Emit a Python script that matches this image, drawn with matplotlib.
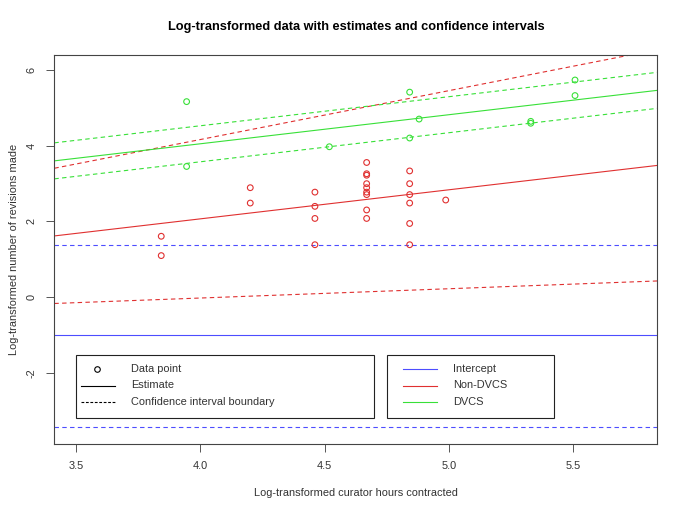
import matplotlib
matplotlib.use('Agg')
import matplotlib.pyplot as plt
from matplotlib.lines import Line2D
from matplotlib.patches import Rectangle

plt.rcParams['font.family'] = ['Liberation Sans', 'DejaVu Sans']
plt.rcParams['axes.unicode_minus'] = False

# log(curator hours) vs log(revisions)
non_dvcs_x = [3.843, 3.843,
              4.201, 4.201,
              4.461, 4.461, 4.461, 4.461,
              4.669, 4.669, 4.669, 4.669, 4.669, 4.669, 4.669, 4.669, 4.669,
              4.842, 4.842, 4.842, 4.842, 4.842, 4.842,
              4.987]
non_dvcs_y = [1.609, 1.099,
              2.890, 2.485,
              2.773, 2.398, 2.079, 1.386,
              3.555, 3.258, 3.219, 2.996, 2.890, 2.773, 2.708, 2.303, 2.079,
              3.332, 2.996, 2.708, 2.485, 1.946, 1.386,
              2.565]

dvcs_x = [3.945, 3.945, 4.519, 4.842, 4.842, 4.880, 5.329, 5.329, 5.507, 5.507]
dvcs_y = [5.16, 3.45, 3.97, 5.41, 4.20, 4.70, 4.64, 4.59, 5.73, 5.32]

# model estimates and confidence bounds
intercept = -1.0
intercept_ci = [-3.42, 1.39]
slope = 0.767
slope_ci = [0.245, 1.29]
dvcs_shift = 1.98
dvcs_shift_ci = [1.505, 2.455]

col_int = '#4d4dff'
col_non = '#e03030'
col_dvcs = '#38e038'
dash = (0, (4, 3))
txt = '#333333'

fig = plt.figure(figsize=(6.85, 5.13), dpi=100)
ax = fig.add_axes([0.0793, 0.1345, 0.8803, 0.7583])

# intercept
ax.axhline(intercept, color=col_int, lw=0.8)
for b in intercept_ci:
    ax.axhline(b, color=col_int, lw=0.8, ls=dash)

# non-DVCS
ax.axline((0, intercept), slope=slope, color=col_non, lw=0.8)
for s in slope_ci:
    ax.axline((0, intercept), slope=s, color=col_non, lw=0.8, ls=dash)

# DVCS
ax.axline((0, intercept + dvcs_shift), slope=slope, color=col_dvcs, lw=0.8)
for d in dvcs_shift_ci:
    ax.axline((0, intercept + d), slope=slope, color=col_dvcs, lw=0.8, ls=dash)

ax.scatter(non_dvcs_x, non_dvcs_y, s=17, facecolors='none', edgecolors=col_non, linewidths=0.8, zorder=3)
ax.scatter(dvcs_x, dvcs_y, s=17, facecolors='none', edgecolors=col_dvcs, linewidths=0.8, zorder=3)

ax.set_xlim(3.413, 5.838)
ax.set_ylim(-3.87, 6.39)
ax.set_xticks([3.5, 4.0, 4.5, 5.0, 5.5])
ax.set_xticklabels(['3.5', '4.0', '4.5', '5.0', '5.5'])
ax.set_yticks([-2, 0, 2, 4, 6])
ax.tick_params(length=5.5, width=0.7, color='#555555', labelsize=7.9, labelcolor=txt, pad=7)
for lab in ax.get_yticklabels():
    lab.set_rotation(90)
    lab.set_va('center')
for sp in ax.spines.values():
    sp.set_color('#444444')
    sp.set_linewidth(0.8)

ax.set_title('Log-transformed data with estimates and confidence intervals',
             fontsize=9.2, fontweight='bold', pad=18)
ax.set_xlabel('Log-transformed curator hours contracted', fontsize=7.9, color=txt)
ax.xaxis.set_label_coords(0.5, -0.113)
ax.set_ylabel('Log-transformed number of revisions made', fontsize=7.9, color=txt)
ax.yaxis.set_label_coords(-0.058, 0.5)

# legends drawn by hand in figure pixels, to match the R boxes
W, H = 685, 513


def fx(px):
    return px / W


def fy(py):
    return 1 - py / H


def box(x0, x1, y0=354.7, y1=418):
    fig.add_artist(Rectangle((fx(x0), fy(y1)), fx(x1) - fx(x0), fy(y0) - fy(y1),
                             transform=fig.transFigure, fill=False, ec='#222222', lw=0.8))


rows = [369, 385.5, 402]

box(76, 374)
fig.add_artist(Line2D([fx(97)], [fy(rows[0])], marker='o', ms=4, mfc='none', mec='black',
                      mew=0.8, transform=fig.transFigure))
fig.add_artist(Line2D([fx(81), fx(115)], [fy(rows[1])] * 2, color='black', lw=0.8,
                      transform=fig.transFigure))
fig.add_artist(Line2D([fx(81), fx(115)], [fy(rows[2])] * 2, color='black', lw=0.8, ls=(0, (2.5, 1.5)),
                      transform=fig.transFigure))
for r, t in zip(rows, ['Data point', 'Estimate', 'Confidence interval boundary']):
    fig.text(fx(131), fy(r), t, fontsize=7.9, color=txt, va='center')

box(387, 554)
for r, c, t in zip(rows, [col_int, col_non, col_dvcs], ['Intercept', 'Non-DVCS', 'DVCS']):
    fig.add_artist(Line2D([fx(403), fx(437)], [fy(r)] * 2, color=c, lw=0.8,
                          transform=fig.transFigure))
    fig.text(fx(453), fy(r), t, fontsize=7.9, color=txt, va='center')

fig.savefig('out.png', dpi=100)
